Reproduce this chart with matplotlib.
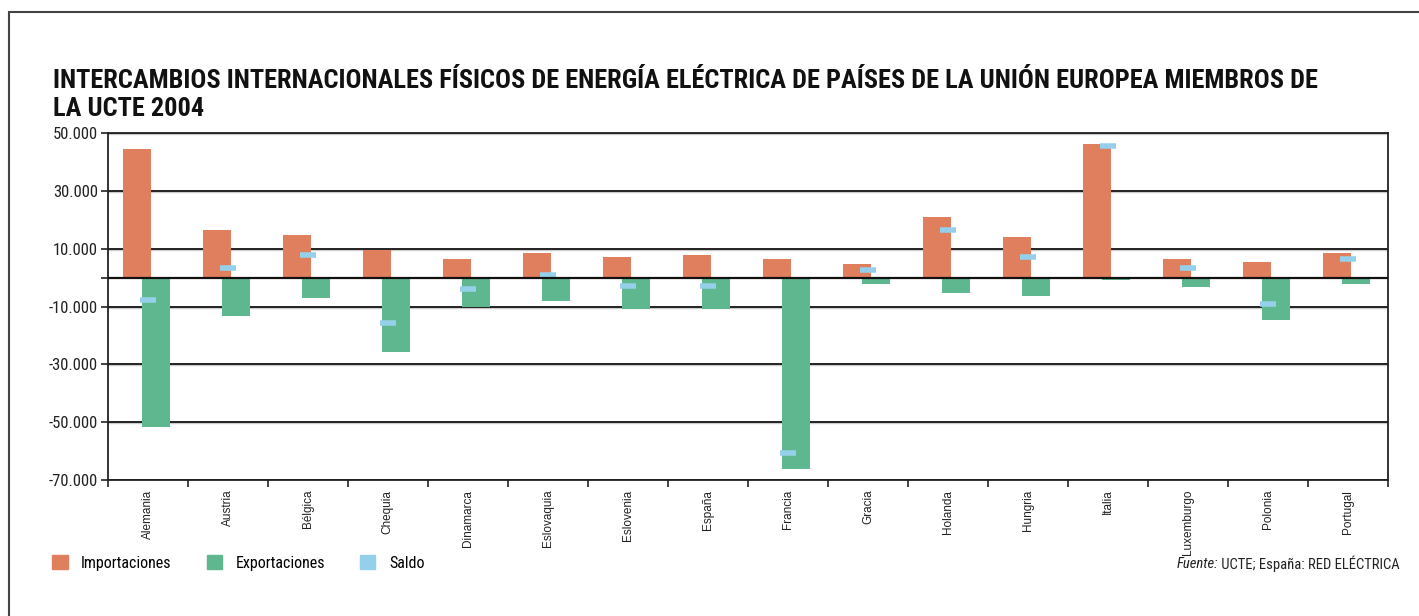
import matplotlib.pyplot as plt
from matplotlib.patches import Patch, Rectangle
from matplotlib.ticker import FixedLocator, NullFormatter
import numpy as np

# Intercambios físicos 2004 (GWh)
paises = ["Alemania", "Austria", "Bélgica", "Chequia", "Dinamarca", "Eslovaquia",
          "Eslovenia", "España", "Francia", "Gracia", "Holanda", "Hungria",
          "Italia", "Luxemburgo", "Polonia", "Portugal"]
importaciones = [44500, 16500, 14700, 9500, 6400, 8600, 7100, 7800, 6400, 4700,
                 21000, 14000, 46200, 6400, 5400, 8500]
exportaciones = [-51600, -13200, -6900, -25600, -10100, -8200, -10700, -10700,
                 -66100, -2100, -5200, -6300, -700, -3100, -14600, -2100]
saldo = [-7700, 3200, 7900, -15600, -3800, 900, -3000, -3000, -60800, 2500,
         16500, 7100, 45400, 3200, -9200, 6300]
yticks = [50000, 30000, 10000, -10000, -30000, -50000, -70000]

c_imp = "#e07f5e"
c_exp = "#5fb78f"
c_sal = "#95d0ea"
cond = ["Roboto Condensed", "DejaVu Sans"]

fig = plt.figure(figsize=(14.19, 6.16), dpi=100)
W, H = 1419, 616
ax = fig.add_axes([107.7 / W, 1 - 480 / H, (1388 - 107.7) / W, (480 - 133) / H])

x = np.arange(len(paises))
ax.bar(x - 0.1375, importaciones, width=0.35, color=c_imp, zorder=2)
ax.bar(x + 0.1, exportaciones, width=0.35, color=c_exp, zorder=2)
ax.hlines(saldo, x - 0.1, x + 0.1, colors=c_sal, lw=4, zorder=3)

ax.set_xlim(-0.5, len(paises) - 0.5)
ax.set_ylim(-70000, 50000)

# grid lines with a light shadow underneath
for v in yticks:
    ax.axhline(v, color="#111111", lw=1.3, zorder=1)
    ax.axhline(v - 350, color="#cccccc", lw=1.0, zorder=0.9)
ax.axhline(0, color="#111111", lw=1.6, zorder=4)

ax.set_yticks(yticks)
ax.set_yticklabels([f"{v:,}".replace(",", ".") for v in yticks],
                   fontfamily=cond, fontsize=12, color="#222222")
ax.yaxis.set_minor_locator(FixedLocator([0]))
ax.tick_params(axis="y", which="both", length=5, width=1.2, pad=2, color="#222222")

ax.xaxis.set_major_locator(FixedLocator(np.arange(-0.5, len(paises), 1.0)))
ax.xaxis.set_major_formatter(NullFormatter())
ax.xaxis.set_minor_locator(FixedLocator(x))
ax.set_xticklabels(paises, minor=True, rotation=90, fontsize=8.5, va="top",
                   fontfamily=["Liberation Sans", "DejaVu Sans"], color="#222222")
ax.tick_params(axis="x", which="major", length=5, width=1.2, color="#222222")
ax.tick_params(axis="x", which="minor", length=0, pad=7)

for s in ax.spines.values():
    s.set_color("#222222")
    s.set_linewidth(1.3)

fig.text(53 / W, 1 - 95 / H,
         "INTERCAMBIOS INTERNACIONALES FÍSICOS DE ENERGÍA ELÉCTRICA DE PAÍSES DE LA UNIÓN EUROPEA MIEMBROS DE\nLA UCTE 2004",
         fontfamily=cond, fontweight="bold", fontsize=19, va="center", ha="left",
         linespacing=1.2, color="#111111")

handles = [Patch(color=c_imp, label="Importaciones"),
           Patch(color=c_exp, label="Exportaciones"),
           Patch(color=c_sal, label="Saldo")]
fig.legend(handles=handles, loc="center left", bbox_to_anchor=(38 / W, 1 - 563 / H),
           ncol=3, frameon=False, prop={"family": cond, "size": 11.5},
           handlelength=0.95, handleheight=0.95, handletextpad=0.85, columnspacing=2.2)

src = fig.text(1400 / W, 1 - 564 / H, " UCTE; España: RED ELÉCTRICA",
               fontfamily=cond, fontsize=10.5, ha="right", va="center", color="#222222")
ax.annotate("Fuente:", xy=(0, 0.5), xycoords=src, ha="right", va="center",
            fontfamily=cond, fontsize=10.5, style="italic", color="#222222",
            annotation_clip=False)

# outer frame
fig.patches.append(Rectangle((9 / W, -0.05), 1.2, 1 - 12 / H + 0.05,
                             transform=fig.transFigure, fill=False,
                             edgecolor="#444444", lw=1.5))

fig.savefig("out.png", dpi=100)
